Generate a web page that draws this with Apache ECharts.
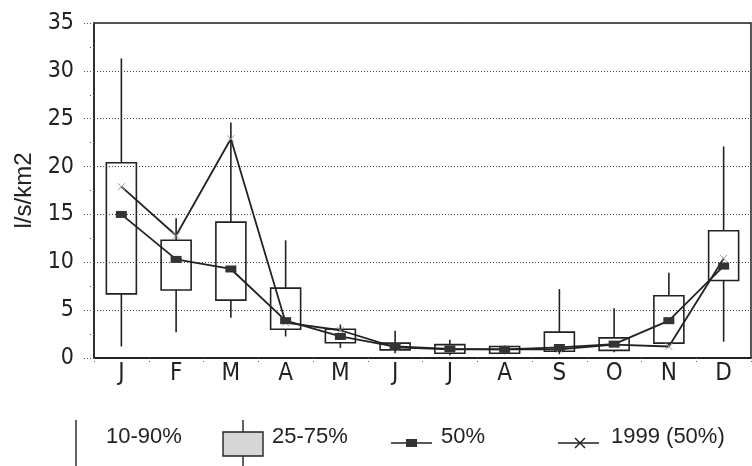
<!DOCTYPE html>
<html>
<head>
<meta charset="utf-8">
<script src="https://cdn.jsdelivr.net/npm/echarts@6/dist/echarts.min.js"></script>
<style>
  html, body { margin: 0; padding: 0; background: #fff; }
  #chart { width: 752px; height: 466px; }
</style>
</head>
<body>
<div id="chart"></div>
<script>
// monthly specific runoff, l/s/km2
const months = ["J", "F", "M", "A", "M", "J", "J", "A", "S", "O", "N", "D"];
const p10 = [1.2, 2.7, 4.2, 2.25, 1.05, 0.5, 0.3, 0.4, 0.4, 0.6, 1.3, 1.7];
const p25 = [6.7, 7.1, 6.05, 3.0, 1.6, 0.85, 0.5, 0.5, 0.7, 0.8, 1.55, 8.1];
const p75 = [20.4, 12.3, 14.2, 7.3, 3.0, 1.55, 1.4, 1.2, 2.7, 2.1, 6.5, 13.3];
const p90 = [31.3, 14.6, 24.6, 12.3, 3.5, 2.85, 1.9, 1.3, 7.2, 5.2, 8.9, 22.1];
const median = [15.0, 10.3, 9.3, 3.9, 2.25, 1.2, 0.95, 0.9, 1.1, 1.45, 3.9, 9.6];
const y1999 = [17.9, 12.8, 22.9, 3.7, 2.9, 1.1, 0.9, 0.9, 0.9, 1.4, 1.2, 10.4];

const yTicks = [0, 5, 10, 15, 20, 25, 30, 35];

const ink = "#222";
const narrow = "'Liberation Sans Narrow', 'DejaVu Sans Condensed', 'Liberation Sans', sans-serif";
const regular = "'Liberation Sans', Arial, sans-serif";
const crossPath = "path://M0,0L10,10M10,0L0,10";

const boxData = months.map((m, i) => [i, p10[i], p25[i], p75[i], p90[i]]);

function renderBox(params, api) {
  const i = api.value(0);
  const lo = api.coord([i, api.value(1)]);
  const q1 = api.coord([i, api.value(2)]);
  const q3 = api.coord([i, api.value(3)]);
  const hi = api.coord([i, api.value(4)]);
  const w = 30;
  const st = { stroke: ink, lineWidth: 1.6, fill: null };
  return {
    type: "group",
    children: [
      { type: "line", shape: { x1: lo[0], y1: lo[1], x2: q1[0], y2: q1[1] }, style: st },
      { type: "line", shape: { x1: q3[0], y1: q3[1], x2: hi[0], y2: hi[1] }, style: st },
      { type: "rect", shape: { x: q3[0] - w / 2, y: q3[1], width: w, height: q1[1] - q3[1] },
        style: { stroke: ink, lineWidth: 1.6, fill: "rgba(0,0,0,0)" } }
    ]
  };
}

// legend row drawn as graphics
const lgY = 438;
const lgText = { fontFamily: regular, fontSize: 22, fill: ink, textVerticalAlign: "middle" };
const legend = [
  { type: "line", shape: { x1: 76, y1: 420, x2: 76, y2: 466 }, style: { stroke: ink, lineWidth: 1.4 } },
  { type: "text", left: 106, top: lgY - 12, style: Object.assign({ text: "10-90%" }, lgText) },
  { type: "line", shape: { x1: 243, y1: 420, x2: 243, y2: 466 }, style: { stroke: ink, lineWidth: 1.4 } },
  { type: "rect", shape: { x: 223, y: 432, width: 40, height: 24 },
    style: { fill: "#d6d6d6", stroke: ink, lineWidth: 1.4 } },
  { type: "text", left: 272, top: lgY - 12, style: Object.assign({ text: "25-75%" }, lgText) },
  { type: "line", shape: { x1: 391, y1: 443, x2: 432, y2: 443 }, style: { stroke: ink, lineWidth: 1.6 } },
  { type: "rect", shape: { x: 406, y: 439, width: 11, height: 8 }, style: { fill: "#333" } },
  { type: "text", left: 441, top: lgY - 12, style: Object.assign({ text: "50%" }, lgText) },
  { type: "line", shape: { x1: 558, y1: 443, x2: 599, y2: 443 }, style: { stroke: ink, lineWidth: 1.4 } },
  { type: "line", shape: { x1: 575, y1: 438, x2: 585, y2: 448 }, style: { stroke: ink, lineWidth: 1.4 } },
  { type: "line", shape: { x1: 575, y1: 448, x2: 585, y2: 438 }, style: { stroke: ink, lineWidth: 1.4 } },
  { type: "text", left: 611, top: lgY - 12, style: Object.assign({ text: "1999 (50%)" }, lgText) }
];

const chart = echarts.init(document.getElementById("chart"), null, { renderer: "canvas" });
chart.setOption({
  animation: false,
  backgroundColor: "#fff",
  grid: {
    left: 94, right: 1, top: 23, bottom: 108,
    show: true, borderColor: ink, borderWidth: 1.5, backgroundColor: "transparent"
  },
  xAxis: {
    type: "category",
    data: months,
    boundaryGap: true,
    axisLine: { lineStyle: { color: ink, width: 1.8 } },
    axisTick: { show: true, interval: 0, length: 6, lineStyle: { color: "#666", type: [1, 2] } },
    axisLabel: { color: ink, fontFamily: narrow, fontSize: 24, margin: 4, interval: 0 },
    splitLine: { show: false }
  },
  yAxis: {
    type: "value",
    min: yTicks[0],
    max: yTicks[yTicks.length - 1],
    interval: 5,
    name: "l/s/km2",
    nameLocation: "middle",
    nameGap: 56,
    nameRotate: 90,
    nameTextStyle: { color: ink, fontFamily: regular, fontSize: 24 },
    axisLine: { show: true, lineStyle: { color: ink, width: 1.5 } },
    axisTick: { show: true, length: 10, lineStyle: { color: "#555", type: [1, 2] } },
    minorTick: { show: true, splitNumber: 2, length: 6, lineStyle: { color: "#555", type: [1, 2] } },
    axisLabel: { color: ink, fontFamily: narrow, fontSize: 23, margin: 20 },
    splitLine: { show: true, lineStyle: { color: "#444", width: 1, type: [1, 2] } }
  },
  graphic: legend,
  series: [
    {
      type: "custom",
      name: "10-90% / 25-75%",
      renderItem: renderBox,
      encode: { x: 0, y: [1, 2, 3, 4] },
      data: boxData,
      z: 2
    },
    {
      type: "line",
      name: "1999 (50%)",
      data: y1999,
      symbol: crossPath,
      symbolSize: 7,
      itemStyle: { color: "transparent", borderColor: "#999", borderWidth: 1 },
      lineStyle: { color: ink, width: 1.8 },
      z: 3
    },
    {
      type: "line",
      name: "50%",
      data: median,
      symbol: "rect",
      symbolSize: [11, 7],
      itemStyle: { color: "#333" },
      lineStyle: { color: ink, width: 1.8 },
      z: 4
    }
  ]
});
</script>
</body>
</html>
